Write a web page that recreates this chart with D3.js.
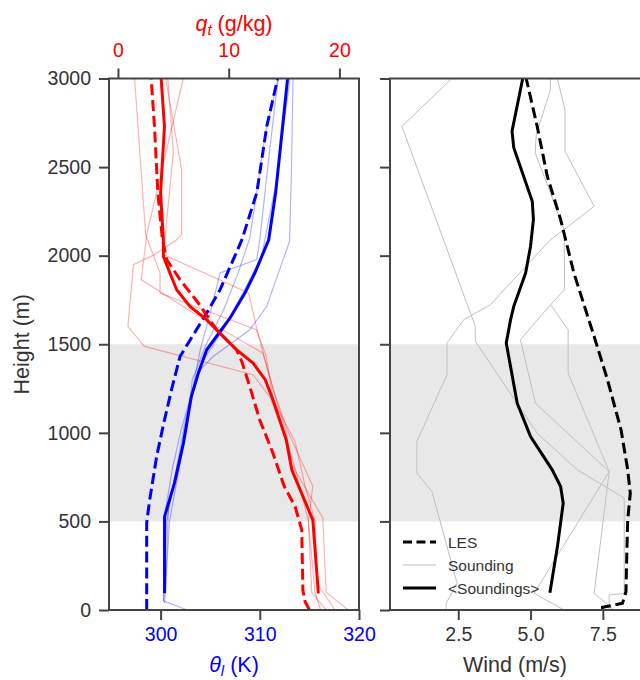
<!DOCTYPE html>
<html>
<head>
<meta charset="utf-8">
<script src="https://cdn.jsdelivr.net/npm/d3@7"></script>
<style>
  body { margin: 0; background: #fff; }
  svg { font-family: "Liberation Sans", Arial, Helvetica, sans-serif; }
</style>
</head>
<body>
<div id="chart"></div>
<script>
// ---- data: [height (m), value] ----
const lesTheta = [[0,298.6],[73,298.6],[492,298.6],[621,298.9],[866,299.6],[1050,300.3],[1243,301.1],[1431,301.96],[1526,303.0],[1676,304.65],[1808,306.0],[2090,308.2],[2356,309.7],[2729,310.7],[3000,311.8]];
const meanTheta = [[94,300.4],[527,300.4],[621,300.9],[716,301.4],[942,302.3],[1205,303.1],[1337,303.8],[1469,304.65],[1572,306.0],[1648,307.0],[1789,308.5],[1902,309.5],[2090,310.9],[2356,311.6],[2729,312.3],[3000,312.8]];
const soundTheta = [
  [[0,302.7],[50,300.3],[500,300.3],[800,301.2],[1000,302.0],[1262,303.3],[1469,304.0],[1676,305.0],[1902,306.0],[1978,309.7],[2090,310.0],[2600,311.0],[3000,311.85]],
  [[50,300.3],[500,300.6],[800,301.6],[1100,302.6],[1356,304.0],[1431,305.3],[1582,309.0],[1714,310.7],[2081,313.0],[2500,313.2],[3000,313.35]],
  [[40,300.4],[500,300.9],[900,302.2],[1200,303.0],[1400,304.2],[1600,306.5],[1800,308.4],[2000,310.2],[2400,311.6],[3000,313.05]],
  [[100,300.5],[600,300.8],[1000,302.6],[1300,303.2],[1500,304.6],[1700,306.4],[1900,307.8],[2100,309.0],[2700,310.6],[3000,311.85]]
];
const lesQt = [[0,17.3],[47,16.9],[113,16.7],[452,16.6],[584,16.0],[700,15.0],[885,14.0],[1074,12.8],[1262,11.9],[1400,11.2],[1469,10.7],[1582,8.9],[1733,7.25],[1865,5.6],[1978,4.4],[2100,4.0],[2356,3.6],[2729,3.3],[3000,3.0]];
const meanQt = [[94,18.1],[508,17.6],[791,15.7],[960,15.2],[1187,14.0],[1300,13.3],[1394,12.2],[1469,10.7],[1563,9.2],[1639,8.0],[1714,6.5],[1808,5.3],[1996,4.1],[2090,4.1],[2356,3.85],[2729,4.2],[3000,3.9]];
const soundQt = [
  [[0,18.3],[100,17.8],[500,17.2],[800,16.0],[1000,15.0],[1205,13.7],[1328,12.2],[1488,2.4],[1600,0.9],[1949,1.4],[2006,3.3],[2090,5.3],[2119,5.75],[2486,5.75],[3000,4.3]],
  [[0,20.8],[100,18.8],[520,18.5],[820,15.7],[1000,15.2],[1186,14.3],[1338,13.6],[1545,12.7],[1789,11.8],[2006,4.1],[2582,5.0],[3000,4.5]],
  [[0,19.6],[150,18.0],[500,17.8],[700,16.9],[950,16.0],[1186,14.0],[1431,13.4],[1582,12.5],[1789,3.8],[1902,3.8],[2119,2.5],[3000,1.5]],
  [[0,18.8],[100,17.5],[500,17.2],[700,17.6],[1000,15.4],[1250,14.0],[1450,13.1],[1676,6.8],[1865,2.1],[2119,2.6],[3000,5.9]]
];
const lesWind = [[0,7.49],[15,7.49],[38,8.18],[103,8.3],[320,8.33],[508,8.36],[659,8.45],[791,8.36],[1017,8.13],[1300,7.66],[1544,7.2],[1620,7.05],[1902,6.5],[2204,6.04],[2448,5.58],[2730,5.23],[3000,4.85]];
const meanWind = [[98,5.67],[358,5.93],[603,6.13],[697,6.04],[791,5.75],[979,5.0],[1167,4.54],[1507,4.16],[1639,4.31],[1714,4.42],[1902,4.83],[2053,5.0],[2204,5.1],[2307,5.06],[2609,4.42],[2703,4.36],[3000,4.73]];
const soundWind = [
  [[0,2.08],[38,2.08],[151,2.46],[669,1.59],[773,1.07],[951,1.07],[1328,2.11],[1507,2.11],[1639,2.69],[1723,3.61],[2090,5.69],[2147,6.16],[2279,7.2],[2590,6.19],[2825,6.19],[3000,5.93]],
  [[0,7.72],[85,7.72],[94,8.24],[632,8.24],[791,6.62],[998,5.23],[1516,3.09],[1601,3.09],[2730,0.55],[3000,2.28]],
  [[0,7.89],[94,7.2],[781,7.72],[1167,5.17],[1526,4.65],[1723,5.69],[1808,6.18],[2147,6.16],[2392,5.6],[2580,5.16],[2684,5.2],[2938,5.69],[3000,5.69]],
  [[0,6.16],[94,5.12],[781,7.72],[1337,6.3],[1582,6.3],[1723,5.69]]
];
const cloudLayer = [500, 1500];
const heightTicks = [0,500,1000,1500,2000,2500,3000];
const thetaTicks = [300,310,320];
const qtTicks = [0,10,20];
const windTicks = [2.5,5.0,7.5];
const legendItems = ["LES","Sounding","<Soundings>"];

// ---- layout ----
const W = 640, H = 680;
const yTop = 78.5, yBot = 610;
const left1 = 109, right1 = 359, left2 = 390, right2 = 641;

const svg = d3.select("#chart").append("svg")
  .attr("width", W).attr("height", H);

const y = d3.scaleLinear().domain([0, 3000]).range([yBot, yTop]);
const xTheta = d3.scaleLinear().domain([294.8, 320]).range([left1, right1]);
const xQ = d3.scaleLinear().domain([-0.81, 21.77]).range([left1, right1]);
const xWind = d3.scaleLinear().domain([0.14, 8.82]).range([left2, right2]);

const defs = svg.append("defs");
defs.append("clipPath").attr("id", "clip1").append("rect")
  .attr("x", left1).attr("y", yTop).attr("width", right1 - left1).attr("height", yBot - yTop);
defs.append("clipPath").attr("id", "clip2").append("rect")
  .attr("x", left2).attr("y", yTop).attr("width", right2 - left2).attr("height", yBot - yTop);

const spine = "#444", tickTxt = "#333";
const dash = "11,4.8";

function styleAxis(g, color) {
  g.select(".domain").remove();
  g.selectAll(".tick line").attr("stroke", spine).attr("stroke-width", 2);
  g.selectAll(".tick text").attr("fill", color).style("font-size", "19.5px")
    .style("font-family", '"Liberation Sans", Arial, sans-serif');
}

// band for the cloud layer
[[left1, right1], [left2, right2]].forEach(([a, b]) => {
  svg.append("rect")
    .attr("x", a).attr("width", b - a)
    .attr("y", y(cloudLayer[1])).attr("height", y(cloudLayer[0]) - y(cloudLayer[1]))
    .attr("fill", "#e8e8e8");
});

// ---- left panel ----
const p1 = svg.append("g").attr("clip-path", "url(#clip1)");
const lineT = d3.line().x(d => xTheta(d[1])).y(d => y(d[0]));
const lineQ = d3.line().x(d => xQ(d[1])).y(d => y(d[0]));

soundTheta.forEach(s => p1.append("path").datum(s).attr("d", lineT)
  .attr("fill", "none").attr("stroke", "#0000ff").attr("stroke-opacity", 0.3).attr("stroke-width", 1.2));
soundQt.forEach(s => p1.append("path").datum(s).attr("d", lineQ)
  .attr("fill", "none").attr("stroke", "#ff0000").attr("stroke-opacity", 0.3).attr("stroke-width", 1.2));

p1.append("path").datum(lesTheta).attr("d", lineT)
  .attr("fill", "none").attr("stroke", "#0000ff").attr("stroke-width", 3).attr("stroke-dasharray", dash);
p1.append("path").datum(meanTheta).attr("d", lineT)
  .attr("fill", "none").attr("stroke", "#0000ff").attr("stroke-width", 3);
p1.append("path").datum(lesQt).attr("d", lineQ)
  .attr("fill", "none").attr("stroke", "#ff0000").attr("stroke-width", 3).attr("stroke-dasharray", dash);
p1.append("path").datum(meanQt).attr("d", lineQ)
  .attr("fill", "none").attr("stroke", "#ff0000").attr("stroke-width", 3);

// ---- right panel ----
const p2 = svg.append("g").attr("clip-path", "url(#clip2)");
const lineW = d3.line().x(d => xWind(d[1])).y(d => y(d[0]));
soundWind.forEach(s => p2.append("path").datum(s).attr("d", lineW)
  .attr("fill", "none").attr("stroke", "#c0c0c0").attr("stroke-width", 1));
p2.append("path").datum(lesWind).attr("d", lineW)
  .attr("fill", "none").attr("stroke", "#000").attr("stroke-width", 3).attr("stroke-dasharray", dash);
p2.append("path").datum(meanWind).attr("d", lineW)
  .attr("fill", "none").attr("stroke", "#000").attr("stroke-width", 3);

// ---- axes ----
svg.append("g").attr("transform", `translate(${left1},0)`)
  .call(d3.axisLeft(y).tickValues(heightTicks).tickSize(10).tickPadding(8).tickFormat(d3.format("d")))
  .call(g => styleAxis(g, tickTxt));
svg.append("g").attr("transform", `translate(${left2},0)`)
  .call(d3.axisLeft(y).tickValues(heightTicks).tickSize(10).tickFormat(""))
  .call(g => styleAxis(g, tickTxt));
svg.append("g").attr("transform", `translate(0,${yBot})`)
  .call(d3.axisBottom(xTheta).tickValues(thetaTicks).tickSize(10).tickPadding(7))
  .call(g => styleAxis(g, "#0000ff"));
svg.append("g").attr("transform", `translate(0,${yTop})`)
  .call(d3.axisTop(xQ).tickValues(qtTicks).tickSize(10).tickPadding(12))
  .call(g => styleAxis(g, "#ff0000"));
svg.append("g").attr("transform", `translate(0,${yBot})`)
  .call(d3.axisBottom(xWind).tickValues(windTicks).tickSize(10).tickPadding(7).tickFormat(d3.format(".1f")))
  .call(g => styleAxis(g, tickTxt));

// frames
svg.append("rect").attr("x", left1).attr("y", yTop).attr("width", right1 - left1).attr("height", yBot - yTop)
  .attr("fill", "none").attr("stroke", spine).attr("stroke-width", 2);
svg.append("rect").attr("x", left2).attr("y", yTop).attr("width", right2 - left2 + 4).attr("height", yBot - yTop)
  .attr("fill", "none").attr("stroke", spine).attr("stroke-width", 2);

// axis labels
svg.append("text").attr("transform", `translate(29,${(yTop + yBot) / 2}) rotate(-90)`)
  .attr("text-anchor", "middle").attr("fill", tickTxt).style("font-size", "21.5px").text("Height (m)");
svg.append("text").attr("x", (left1 + right1) / 2).attr("y", 672)
  .attr("text-anchor", "middle").attr("fill", "#0000ff").style("font-size", "21.5px")
  .html('<tspan font-style="italic">θ</tspan><tspan font-size="15px" font-style="italic" dy="4">l</tspan><tspan dy="-4"> (K)</tspan>');
svg.append("text").attr("x", (left1 + right1) / 2).attr("y", 31)
  .attr("text-anchor", "middle").attr("fill", "#ff0000").style("font-size", "21.5px")
  .html('<tspan font-style="italic">q</tspan><tspan font-size="15px" font-style="italic" dy="4">t</tspan><tspan dy="-4"> (g/kg)</tspan>');
svg.append("text").attr("x", (left2 + 640) / 2).attr("y", 672)
  .attr("text-anchor", "middle").attr("fill", tickTxt).style("font-size", "21.5px").text("Wind (m/s)");

// legend
const leg = svg.append("g").attr("transform", "translate(403,542)");
const legStyles = [
  {stroke: "#000", w: 3, dash: "9,4.5"},
  {stroke: "#c0c0c0", w: 1, dash: null},
  {stroke: "#000", w: 3, dash: null}
];
legendItems.forEach((name, i) => {
  const row = leg.append("g").attr("transform", `translate(0,${i * 23})`);
  row.append("line").attr("x1", 0).attr("x2", 33).attr("y1", 0).attr("y2", 0)
    .attr("stroke", legStyles[i].stroke).attr("stroke-width", legStyles[i].w)
    .attr("stroke-dasharray", legStyles[i].dash);
  row.append("text").attr("x", 45).attr("y", 5.5).attr("fill", tickTxt)
    .style("font-size", "15.5px").text(name);
});
</script>
</body>
</html>
